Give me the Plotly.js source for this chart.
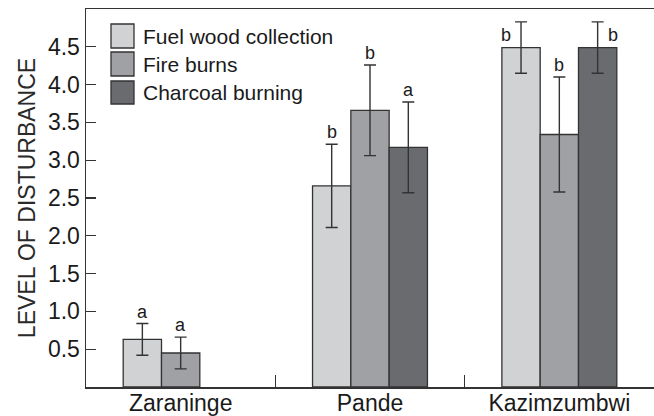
<!DOCTYPE html>
<html>
<head>
<meta charset="utf-8">
<script src="https://cdn.plot.ly/plotly-3.0.1.min.js"></script>
<style>html,body{margin:0;padding:0;background:#fff;}#chart{width:654px;height:416px;}</style>
</head>
<body>
<div id="chart"></div>
<script>
// ---- data ----
const categories = ['Zaraninge', 'Pande', 'Kazimzumbwi'];
const seriesNames = ['Fuel wood collection', 'Fire burns', 'Charcoal burning'];
const fuelWood = [0.63, 2.66, 4.49];
const fuelWoodErr = [0.21, 0.55, 0.34];
const fireBurns = [0.45, 3.66, 3.34];
const fireBurnsErr = [0.21, 0.60, 0.76];
const charcoal = [null, 3.17, 4.49];
const charcoalErr = [null, 0.60, 0.34];
const fuelWoodLetters = ['a', 'b', 'b'];
const fireBurnsLetters = ['a', 'b', 'b'];
const charcoalLetters = ['', 'a', 'b'];
const yTickVals = [0.5, 1.0, 1.5, 2.0, 2.5, 3.0, 3.5, 4.0, 4.5];

// ---- styles ----
const colors = ['#d1d2d4', '#a0a1a4', '#6a6b6f'];
const font = 'Liberation Sans, Arial, sans-serif';
const ink = '#333333';
const values = [fuelWood, fireBurns, charcoal];
const errs = [fuelWoodErr, fireBurnsErr, charcoalErr];
const letters = [fuelWoodLetters, fireBurnsLetters, charcoalLetters];

const traces = values.map((v, i) => ({
  type: 'bar',
  name: seriesNames[i],
  x: categories,
  y: v,
  marker: {color: colors[i], line: {color: ink, width: 1.3}},
  error_y: {type: 'data', array: errs[i], visible: true, color: ink, thickness: 1.4, width: 6},
  showlegend: false,
  hoverinfo: 'none'
}));

const barPx = 38.3;
const annotations = [];
letters.forEach((arr, i) => {
  arr.forEach((t, j) => {
    if (!t || values[i][j] == null) return;
    const top = values[i][j] + errs[i][j];
    const base = (i - 1) * barPx;
    let xshift = base, yshift = 12;
    if (top > 4.7) {
      yshift = -13;
      if (i === 0) xshift = base - 15;
      else if (i === 2) xshift = base + 15;
      else yshift = 12;
    }
    annotations.push({
      x: categories[j], y: top, xref: 'x', yref: 'y',
      text: t, showarrow: false, xanchor: 'center', yanchor: 'middle',
      xshift: xshift, yshift: yshift,
      font: {family: font, size: 18, color: '#1a1a1a'}
    });
  });
});

// legend drawn manually (large swatches)
const shapes = [];
const legendRows = [[-15, -39, -27], [-43, -67, -55], [-72, -95, -83]];
seriesNames.forEach((n, i) => {
  shapes.push({
    type: 'rect', xref: 'paper', yref: 'paper',
    xsizemode: 'pixel', ysizemode: 'pixel', xanchor: 0, yanchor: 1,
    x0: 25, x1: 48, y0: legendRows[i][1], y1: legendRows[i][0],
    fillcolor: colors[i], line: {color: ink, width: 1.3}
  });
  annotations.push({
    xref: 'paper', yref: 'paper', x: 0, y: 1, xshift: 55, yshift: legendRows[i][2],
    xanchor: 'left', yanchor: 'middle', showarrow: false, text: n,
    font: {family: font, size: 21, color: '#1a1a1a'}
  });
});

const layout = {
  width: 654, height: 416,
  margin: {l: 86, r: 0, t: 9, b: 29, pad: 0},
  paper_bgcolor: '#fff', plot_bgcolor: '#fff',
  barmode: 'group', bargap: 0.393, bargroupgap: 0,
  font: {family: font, color: '#1a1a1a'},
  xaxis: {
    type: 'category', range: [-0.5, 2.5],
    showline: true, linecolor: ink, linewidth: 1.5, mirror: true,
    ticks: 'inside', tickson: 'boundaries', ticklen: 12, tickcolor: ink, tickwidth: 1.3,
    showgrid: false, zeroline: false, ticklabelstandoff: -5,
    tickfont: {family: font, size: 23, color: '#1a1a1a'}
  },
  yaxis: {
    range: [0, 5],
    showline: true, linecolor: ink, linewidth: 1.5,
    ticks: 'inside', ticklen: 10, tickcolor: ink, tickwidth: 1.3,
    tickvals: yTickVals, tickformat: '.1f',
    showgrid: false, zeroline: false,
    tickfont: {family: font, size: 23, color: '#1a1a1a'},
    title: {text: 'LEVEL OF DISTURBANCE', font: {family: font, size: 23, color: '#2a2a2a'}, standoff: 6}
  },
  shapes: shapes,
  annotations: annotations
};

Plotly.newPlot('chart', traces, layout, {displayModeBar: false, staticPlot: true});
</script>
</body>
</html>
